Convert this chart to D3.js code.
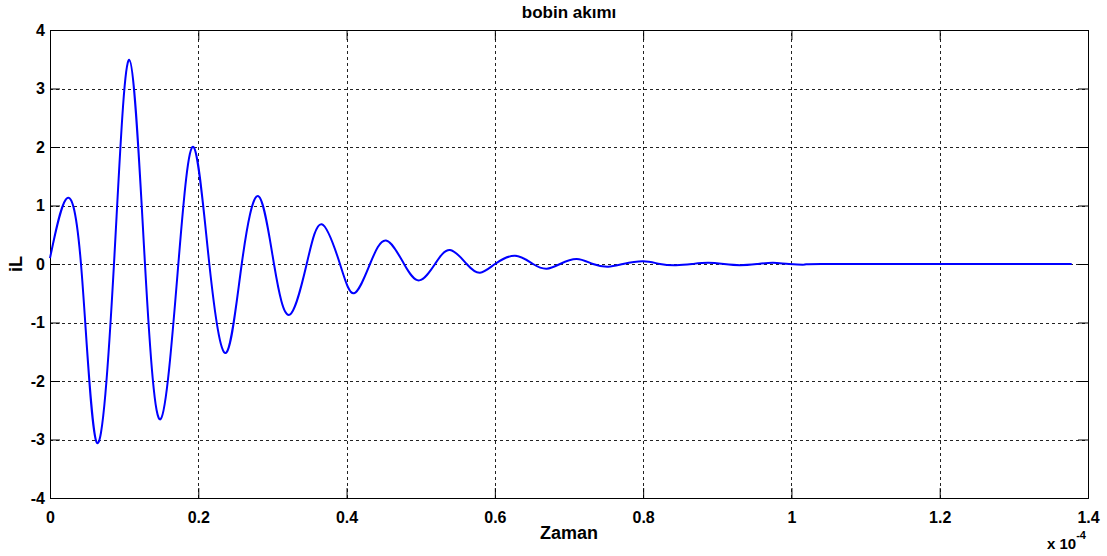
<!DOCTYPE html>
<html>
<head>
<meta charset="utf-8">
<script src="https://cdn.jsdelivr.net/npm/d3@7"></script>
<style>
  html, body { margin: 0; padding: 0; background: #fff; }
  svg { display: block; font-family: "Liberation Sans", Arial, sans-serif; }
</style>
</head>
<body>
<svg id="chart" width="1107" height="556"></svg>
<script>
// Inductor current iL over time; time in units of 1e-4 s
const timeE4 = [
  0, 0.0212, 0.0418, 0.0630, 0.0863, 0.1070, 0.1281, 0.1493, 0.1731, 0.1936,
  0.2149, 0.2374, 0.2586, 0.2810, 0.3021, 0.3228, 0.3462, 0.3665, 0.3911, 0.4100,
  0.4316, 0.4532, 0.4775, 0.4981, 0.5193, 0.5395, 0.5620, 0.5800, 0.6002, 0.6272,
  0.6515, 0.6700, 0.6879, 0.7104, 0.7324, 0.7530, 0.7729, 0.8002, 0.8228, 0.8443,
  0.8660, 0.8875, 0.9090, 0.9307, 0.9536, 0.9752, 0.9968, 1.0183, 1.0400, 1.2000,
  1.3780
];
const iL = [
  0.10, 1.10, 0, -3.05, 0, 3.49, 0, -2.65, 0, 2.00,
  0, -1.52, 0, 1.16, 0, -0.87, 0, 0.68, 0, -0.50,
  0, 0.40, 0, -0.28, 0, 0.24, 0, -0.15, 0, 0.14,
  0, -0.08, 0, 0.085, 0, -0.045, 0, 0.045, 0, -0.02,
  0, 0.02, 0, -0.02, 0, 0.02, 0, -0.01, 0, 0,
  0
];
const xTicks = [0, 0.2, 0.4, 0.6, 0.8, 1, 1.2, 1.4];
const yTicks = [-4, -3, -2, -1, 0, 1, 2, 3, 4];
const titleText = "bobin akımı";
const xLabel = "Zaman";
const yLabel = "iL";

const svg = d3.select("#chart");
const margin = { left: 50, right: 19, top: 30, bottom: 58 };
const W = 1107, H = 556;
const x = d3.scaleLinear().domain([0, 1.4]).range([margin.left, W - margin.right]);
const y = d3.scaleLinear().domain([-4, 4]).range([H - margin.bottom, margin.top]);

const tickLen = 10;
const fmt = d => String(d);   // plain hyphen-minus labels

// Dotted grid
const grid = svg.append("g").attr("stroke", "#222").attr("stroke-width", 1)
  .attr("stroke-dasharray", "3,3").attr("shape-rendering", "crispEdges");
grid.selectAll("line.gx").data(xTicks.slice(1, -1)).join("line")
  .attr("x1", d => Math.round(x(d)) + 0.5).attr("x2", d => Math.round(x(d)) + 0.5)
  .attr("y1", y(-4)).attr("y2", y(4));
grid.selectAll("line.gy").data(yTicks.slice(1, -1)).join("line")
  .attr("y1", d => Math.round(y(d)) + 0.5).attr("y2", d => Math.round(y(d)) + 0.5)
  .attr("x1", x(0)).attr("x2", x(1.4));

// Axes with inward ticks on all four sides
const axB = d3.axisBottom(x).tickValues(xTicks).tickSize(-tickLen).tickPadding(14).tickFormat(fmt);
const axL = d3.axisLeft(y).tickValues(yTicks).tickSize(-tickLen).tickPadding(5).tickFormat(fmt);
const axT = d3.axisTop(x).tickValues(xTicks).tickSize(-tickLen).tickFormat("");
const axR = d3.axisRight(y).tickValues(yTicks).tickSize(-tickLen).tickFormat("");

function style(g) {
  g.select(".domain").attr("stroke", "#000").attr("stroke-width", 1);
  g.selectAll(".tick line").attr("stroke", "#000").attr("stroke-width", 1);
  g.selectAll(".tick text").attr("fill", "#000")
    .attr("font-size", 16).attr("font-weight", "bold")
    .attr("font-family", "Liberation Sans, Arial, sans-serif");
}
svg.append("g").attr("transform", `translate(0,${y(-4)})`).call(axB).call(style);
svg.append("g").attr("transform", `translate(${x(0)},0)`).call(axL).call(style);
svg.append("g").attr("transform", `translate(0,${y(4)})`).call(axT).call(style);
svg.append("g").attr("transform", `translate(${x(1.4)},0)`).call(axR).call(style);

// Current trace
const pts = timeE4.map((t, i) => [t, iL[i]]);
const line = d3.line().x(d => x(d[0])).y(d => y(d[1])).curve(d3.curveNatural);
svg.append("path").datum(pts).attr("d", line)
  .attr("fill", "none").attr("stroke", "#0000ff").attr("stroke-width", 2)
  .attr("stroke-linejoin", "round");

// Title and axis labels
svg.append("text").attr("x", (x(0) + x(1.4)) / 2).attr("y", 18)
  .attr("text-anchor", "middle").attr("font-size", 17).attr("font-weight", "bold")
  .text(titleText);
svg.append("text").attr("x", (x(0) + x(1.4)) / 2).attr("y", 539)
  .attr("text-anchor", "middle").attr("font-size", 18).attr("font-weight", "bold")
  .text(xLabel);
svg.append("text").attr("transform", `translate(22,${y(0)}) rotate(-90)`)
  .attr("text-anchor", "middle").attr("font-size", 18).attr("font-weight", "bold")
  .text(yLabel);

// Exponent note for the time axis
const expo = svg.append("text").attr("x", 1047).attr("y", 549)
  .attr("font-size", 15).attr("font-weight", "bold");
expo.append("tspan").text("x 10");
expo.append("tspan").attr("dy", -10).attr("font-size", 11).text("-4");
</script>
</body>
</html>
